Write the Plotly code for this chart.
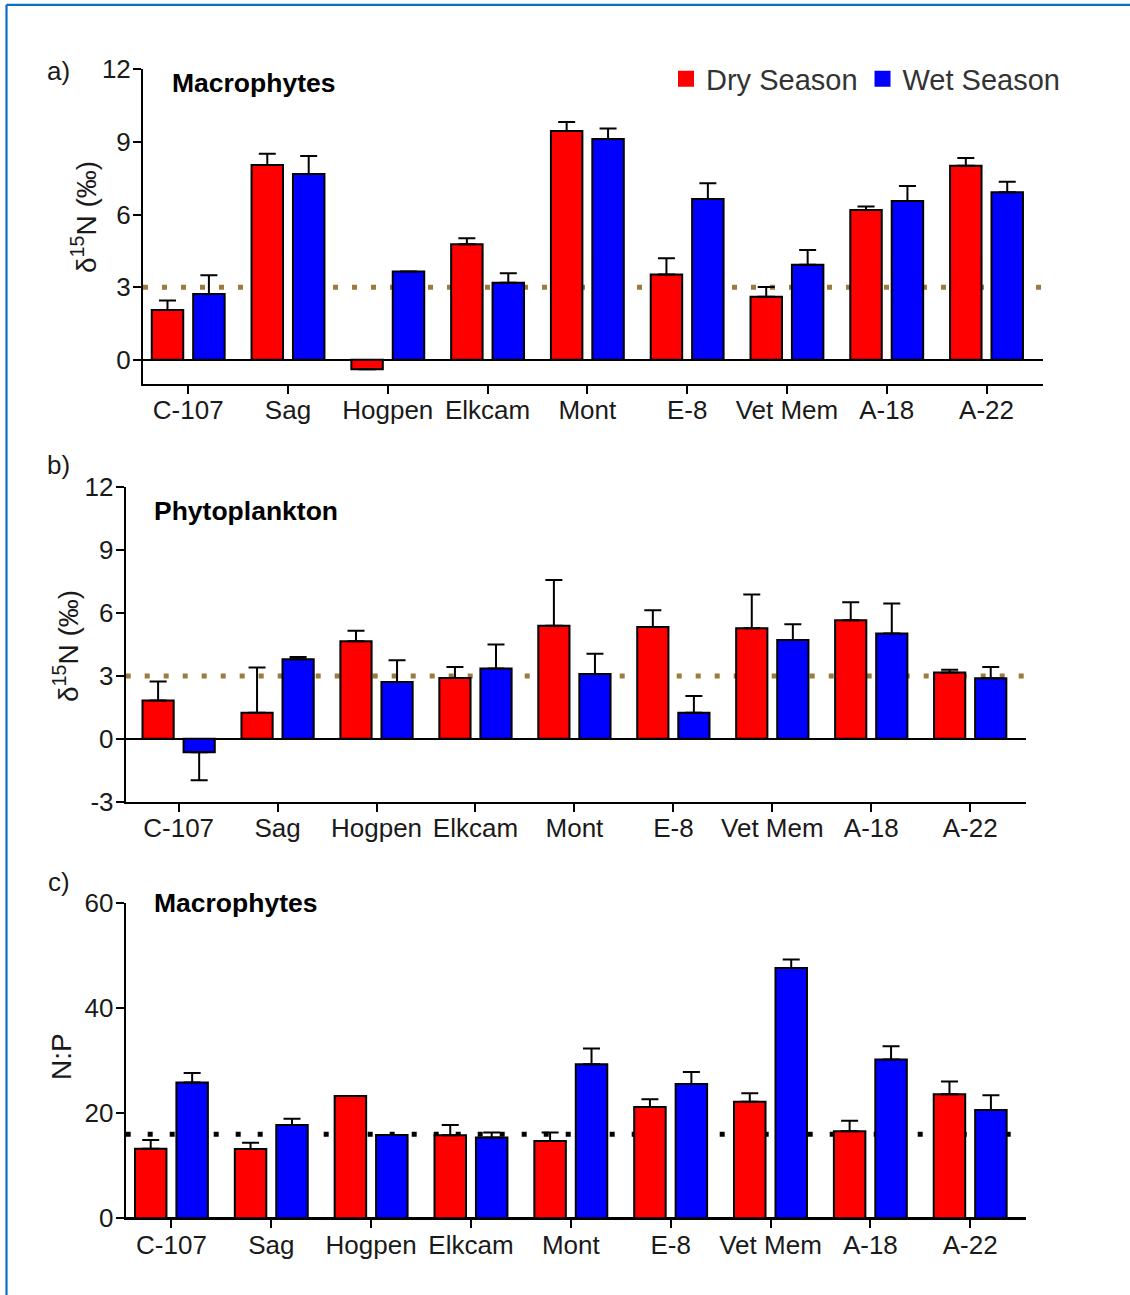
import plotly.graph_objects as go

# ---------------- data ----------------
sites = ["C-107", "Sag", "Hogpen", "Elkcam", "Mont", "E-8", "Vet Mem", "A-18", "A-22"]

a_dry = [2.06, 8.05, -0.39, 4.77, 9.45, 3.52, 2.60, 6.19, 8.02]
a_dry_err = [0.39, 0.46, 0.0, 0.25, 0.37, 0.67, 0.41, 0.14, 0.32]
a_wet = [2.72, 7.68, 3.65, 3.18, 9.12, 6.64, 3.93, 6.56, 6.92]
a_wet_err = [0.77, 0.74, 0.0, 0.40, 0.43, 0.65, 0.61, 0.62, 0.43]

b_dry = [1.83, 1.24, 4.66, 2.90, 5.39, 5.34, 5.28, 5.66, 3.16]
b_dry_err = [0.90, 2.16, 0.50, 0.53, 2.19, 0.80, 1.61, 0.85, 0.13]
b_wet = [-0.64, 3.80, 2.71, 3.35, 3.09, 1.24, 4.72, 5.02, 2.89]
b_wet_err = [1.34, 0.10, 1.04, 1.15, 0.97, 0.80, 0.75, 1.44, 0.54]

c_dry = [13.24, 13.18, 23.26, 15.78, 14.70, 21.17, 22.18, 16.54, 23.60]
c_dry_err = [1.65, 1.20, 0.0, 1.96, 1.60, 1.46, 1.60, 2.00, 2.40]
c_wet = [25.80, 17.74, 15.84, 15.34, 29.30, 25.54, 47.60, 30.20, 20.60]
c_wet_err = [1.80, 1.20, 0.0, 0.95, 3.00, 2.28, 1.60, 2.50, 2.80]

ref_d15n = 3      # reference line, panels a and b
ref_np = 16       # Redfield N:P, panel c

a_yticks = [0, 3, 6, 9, 12]
b_yticks = [-3, 0, 3, 6, 9, 12]
b_yticklabels = ["-3", "0", "3", "6", "9", "12"]
c_yticks = [0, 20, 40, 60]

series_names = ["Dry Season", "Wet Season"]
colors = ["#FF0000", "#0000FF"]

# ---------------- layout helpers ----------------
W, H = 1130, 1295
FONT = "Liberation Sans, Arial, Helvetica, sans-serif"


def px_x(p):
    return p / W


def px_y(p):
    return 1 - p / H


def err_parts(vals, errs):
    plus = [e if v >= 0 else 0 for v, e in zip(vals, errs)]
    minus = [0 if v >= 0 else e for v, e in zip(vals, errs)]
    return plus, minus


fig = go.Figure()

panels = [
    ("x", "y", (a_dry, a_dry_err), (a_wet, a_wet_err)),
    ("x2", "y2", (b_dry, b_dry_err), (b_wet, b_wet_err)),
    ("x3", "y3", (c_dry, c_dry_err), (c_wet, c_wet_err)),
]

for xa, ya, dry, wet in panels:
    for (vals, errs), name, col in zip([dry, wet], series_names, colors):
        plus, minus = err_parts(vals, errs)
        fig.add_trace(go.Bar(
            x=sites, y=vals, name=name, xaxis=xa, yaxis=ya,
            marker=dict(color=col, line=dict(color="black", width=2)),
            error_y=dict(type="data", symmetric=False, array=plus, arrayminus=minus,
                         color="black", thickness=2, width=8.5),
            showlegend=False,
        ))

# legend entries (square swatches)
for name, col in zip(series_names, colors):
    fig.add_trace(go.Scatter(
        x=[None], y=[None], mode="markers", name=name, xaxis="x", yaxis="y",
        marker=dict(symbol="square", size=16, color=col), showlegend=True,
    ))

tickfont = dict(family=FONT, size=26, color="#1a1a1a")

xcommon = dict(type="category", showline=True, linecolor="black", linewidth=2,
               ticks="outside", ticklen=8, tickwidth=2, tickcolor="black",
               showgrid=False, zeroline=False, tickfont=tickfont, automargin=False,
               ticklabelstandoff=-6)
ycommon = dict(showline=True, linecolor="black", linewidth=2,
               ticks="outside", ticklen=8, tickwidth=2, tickcolor="black",
               showgrid=False, zeroline=True, zerolinecolor="black", zerolinewidth=2,
               tickfont=tickfont, automargin=False, ticklabelstandoff=-3)

fig.update_layout(
    template="none",
    width=W, height=H,
    margin=dict(l=0, r=0, t=0, b=0, pad=0, autoexpand=False),
    paper_bgcolor="white", plot_bgcolor="white",
    barmode="group", bargap=0.17, bargroupgap=0.24,
    font=dict(family=FONT, color="#1a1a1a"),
    xaxis=dict(xcommon, domain=[px_x(143), px_x(1043)], range=[-0.453, 8.566], anchor="y"),
    yaxis=dict(ycommon, domain=[px_y(384), px_y(69.3)], range=[-1, 12],
               tickmode="array", tickvals=a_yticks, anchor="x"),
    xaxis2=dict(xcommon, domain=[px_x(125.7), px_x(1026.2)], range=[-0.535, 8.566], anchor="y2"),
    yaxis2=dict(ycommon, domain=[px_y(801.7), px_y(487.3)], range=[-3, 12],
                tickmode="array", tickvals=b_yticks, ticktext=b_yticklabels, anchor="x2"),
    xaxis3=dict(xcommon, domain=[px_x(125.7), px_x(1026.2)], range=[-0.458, 8.561], anchor="y3"),
    yaxis3=dict(ycommon, domain=[px_y(1218.3), px_y(902.7)], range=[0, 60],
                tickmode="array", tickvals=c_yticks, anchor="x3"),
    legend=dict(orientation="h", x=px_x(666), xanchor="left", y=px_y(79), yanchor="middle",
                font=dict(family=FONT, size=29, color="#333333"),
                bgcolor="rgba(0,0,0,0)", borderwidth=0, itemclick=False),
    showlegend=True,
)

# dotted reference lines (drawn beneath the bars)
shapes = [
    dict(type="line", xref="x domain", yref="y", x0=0, x1=1, y0=ref_d15n, y1=ref_d15n,
         line=dict(color="#9C7B3E", width=5, dash="5px,14px"), layer="below"),
    dict(type="line", xref="x2 domain", yref="y2", x0=0, x1=1, y0=ref_d15n, y1=ref_d15n,
         line=dict(color="#9C7B3E", width=5, dash="5px,14px"), layer="below"),
    dict(type="line", xref="x3 domain", yref="y3", x0=0, x1=1, y0=ref_np, y1=ref_np,
         line=dict(color="black", width=5, dash="5px,17px"), layer="below"),
    # blue frame (top and left edges)
    dict(type="line", xref="paper", yref="paper", x0=px_x(6.5), x1=1.01, y0=px_y(4.8), y1=px_y(4.8),
         line=dict(color="#0A6FC2", width=2.2)),
    dict(type="line", xref="paper", yref="paper", x0=px_x(6.5), x1=px_x(6.5), y0=px_y(4.8), y1=-0.01,
         line=dict(color="#0A6FC2", width=2.2)),
]
fig.update_layout(shapes=shapes)

ann = []
# panel letters
for txt, x, y in [("a)", 44.6, 71), ("b)", 44.6, 465), ("c)", 46.4, 882)]:
    ann.append(dict(text=txt, x=px_x(x), y=px_y(y), xref="paper", yref="paper",
                    xanchor="left", yanchor="middle", showarrow=False,
                    font=dict(family=FONT, size=26, color="#1a1a1a")))
# panel titles
for txt, x, y in [("Macrophytes", 169.6, 83), ("Phytoplankton", 151.8, 511), ("Macrophytes", 151.8, 903)]:
    ann.append(dict(text="<b>" + txt + "</b>", x=px_x(x), y=px_y(y), xref="paper", yref="paper",
                    xanchor="left", yanchor="middle", showarrow=False,
                    font=dict(family=FONT, size=26.5, color="black")))
# y-axis titles
for txt, x, y in [("δ<sup>15</sup>N (‰)", 84, 217), ("δ<sup>15</sup>N (‰)", 66, 646), ("N:P", 61, 1057)]:
    ann.append(dict(text=txt, x=px_x(x), y=px_y(y), xref="paper", yref="paper",
                    xanchor="center", yanchor="middle", textangle=-90, showarrow=False,
                    font=dict(family=FONT, size=28, color="#1a1a1a")))
fig.update_layout(annotations=ann)

fig.write_html("out.html")
